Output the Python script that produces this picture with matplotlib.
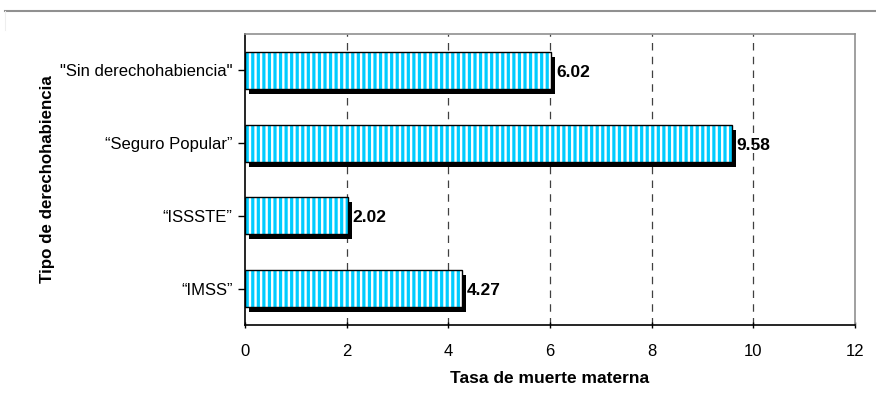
import matplotlib
matplotlib.use("Agg")
import matplotlib.pyplot as plt
from matplotlib.transforms import ScaledTranslation
from matplotlib.lines import Line2D

categories = ["“IMSS”", "“ISSSTE”", "“Seguro Popular”", "\"Sin derechohabiencia\""]
values = [4.27, 2.02, 9.58, 6.02]
value_labels = ["4.27", "2.02", "9.58", "6.02"]
xticks = [0, 2, 4, 6, 8, 10, 12]

plt.rcParams['font.family'] = ['Liberation Sans', 'DejaVu Sans']
plt.rcParams['hatch.linewidth'] = 2.3

fig = plt.figure(figsize=(8.76, 4.17), dpi=100)
ax = fig.add_axes([245/876, 1-325/417, 610/876, 291/417])

ypos = list(range(len(categories)))
h = 0.51

# shadow
shadow = ax.barh(ypos, values, height=h, color='black', zorder=2)
off = ScaledTranslation(4/100, -5/100, fig.dpi_scale_trans)
for p in shadow:
    p.set_transform(ax.transData + off)
# striped fill
ax.barh(ypos, values, height=h, facecolor='white', edgecolor='#00CCFF',
        hatch='|||', linewidth=0, zorder=3)
# outline
ax.barh(ypos, values, height=h, facecolor='none', edgecolor='black',
        linewidth=1.0, zorder=4)

for y, v, t in zip(ypos, values, value_labels):
    ax.annotate(t, (v, y), xytext=(3.5, -1.5), textcoords='offset points',
                ha='left', va='center', fontsize=12.5, fontweight='bold', zorder=5)

ax.set_xlim(0, 12)
ax.set_ylim(-0.5, 3.5)
ax.set_xticks(xticks)
ax.set_xticklabels([str(x) for x in xticks], fontsize=12)
ax.set_yticks(ypos)
ax.set_yticklabels(categories, fontsize=12)
ax.tick_params(axis='y', length=5, width=1, pad=4, direction='out')
ax.tick_params(axis='x', length=5, width=1, pad=11, direction='inout')

for x in xticks[1:-1]:
    ax.axvline(x, color='#404040', linestyle=(0, (6, 5)), linewidth=0.9, zorder=1)

ax.spines['left'].set_color('black')
ax.spines['bottom'].set_color('black')
ax.spines['top'].set_color('#909090')
ax.spines['right'].set_color('#909090')
for s in ax.spines.values():
    s.set_linewidth(1.2)

ax.set_xlabel('Tasa de muerte materna', fontsize=12.5, fontweight='bold', labelpad=9)
ax.set_ylabel('Tipo de derechohabiencia', fontsize=12.2, fontweight='bold', labelpad=3.5)

fig.add_artist(Line2D([5/876, 1], [1-11/417, 1-11/417], color='#909090', linewidth=1.5))
fig.add_artist(Line2D([5/876, 5/876], [1-11/417, 1-30/417], color='#eeeeee', linewidth=0.8))

fig.savefig('out.png', dpi=100)
